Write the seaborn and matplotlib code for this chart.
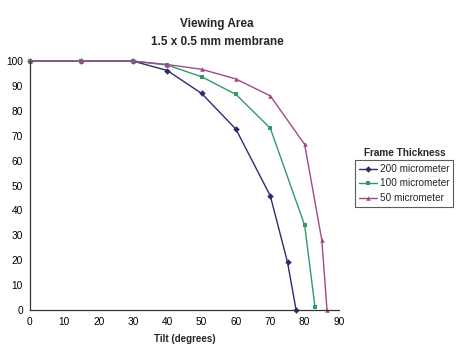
import pandas as pd
import matplotlib
matplotlib.use("Agg")
import matplotlib.pyplot as plt
import seaborn as sns

# values
tilt_200 = [0, 15, 30, 40, 50, 60, 70, 75, 77.5]
area_200 = [100, 100, 100, 96.2, 87, 72.6, 45.8, 19.2, 0]
tilt_100 = [0, 15, 30, 40, 50, 60, 70, 80, 83]
area_100 = [100, 100, 100, 98.4, 93.7, 86.6, 73, 34, 1.2]
tilt_50 = [0, 15, 30, 40, 50, 60, 70, 80, 85, 86.5]
area_50 = [100, 100, 100, 98.6, 96.7, 92.8, 86, 66.5, 28, 0]
series_names = ["200 micrometer", "100 micrometer", "50 micrometer"]
colors = ["#2c2c6e", "#2f9a6c", "#a04a8a"]
marker_kinds = ["D", "s", "^"]

frames = []
for name, xs, ys in zip(series_names,
                        [tilt_200, tilt_100, tilt_50],
                        [area_200, area_100, area_50]):
    frames.append(pd.DataFrame({"tilt": xs, "area": ys, "frame": name}))
df = pd.concat(frames, ignore_index=True)

sns.set_style("white")
plt.rcParams["font.family"] = ["Liberation Sans", "DejaVu Sans"]

fig = plt.figure(figsize=(4.6, 3.53), dpi=100)
ax = fig.add_axes([0.065, 0.122, 0.672, 0.705])

sns.lineplot(data=df, x="tilt", y="area", hue="frame", style="frame",
             hue_order=series_names, style_order=series_names,
             palette=dict(zip(series_names, colors)),
             markers=dict(zip(series_names, marker_kinds)),
             dashes=False, markersize=3.3, markeredgewidth=0,
             linewidth=1.0, sort=False, ax=ax, clip_on=False)

ax.set_xlim(0, 90)
ax.set_ylim(0, 100)
ax.set_xticks(range(0, 91, 10))
ax.set_yticks(range(0, 101, 10))
ax.tick_params(axis="both", labelsize=7.3, length=3, width=0.8,
               direction="inout", colors="#333333", labelcolor="black")
for side in ["top", "right"]:
    ax.spines[side].set_visible(False)
for side in ["left", "bottom"]:
    ax.spines[side].set_color("#333333")
    ax.spines[side].set_linewidth(0.9)

ax.set_xlabel("Tilt (degrees)", fontsize=7, fontweight="bold", labelpad=5)
ax.set_ylabel("")

fig.text(217 / 460, 1 - 24 / 353, "Viewing Area", ha="center", va="center",
         fontsize=8.5, fontweight="bold")
fig.text(217 / 460, 1 - 42 / 353, "1.5 x 0.5 mm membrane", ha="center",
         va="center", fontsize=8.5, fontweight="bold")

handles, labels = ax.get_legend_handles_labels()
ax.legend_.remove()
fig.text(405 / 460, 1 - 153 / 353, "Frame Thickness", ha="center",
         va="center", fontsize=7.2, fontweight="bold")
leg = fig.legend(handles, labels, loc="upper left",
                 bbox_to_anchor=(355 / 460, 1 - 160 / 353),
                 fontsize=7.2, frameon=True, fancybox=False,
                 handlelength=1.8, handletextpad=0.3, borderpad=0.4,
                 labelspacing=0.45, borderaxespad=0)
leg.get_frame().set_edgecolor("#333333")
leg.get_frame().set_linewidth(0.8)

fig.savefig("out.png", dpi=100)
